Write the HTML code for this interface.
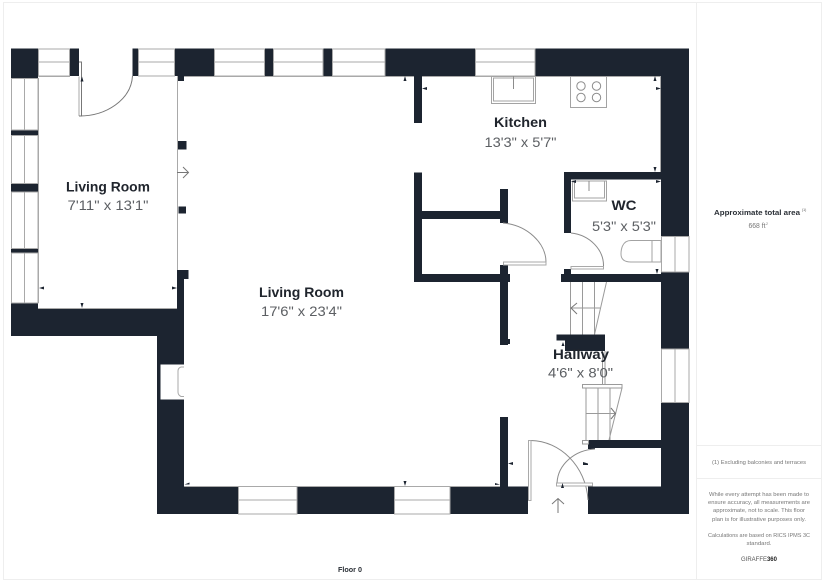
<!DOCTYPE html>
<html><head><meta charset="utf-8"><style>
html,body{margin:0;padding:0;background:#fff;width:825px;height:583px;overflow:hidden}
svg{display:block}
text{font-family:"Liberation Sans",sans-serif}
.n{font-size:14px;font-weight:bold;fill:#20252d;text-anchor:middle}
.d{font-size:14px;fill:#5c5f63;text-anchor:middle}
.s{font-size:5.4px;fill:#777;text-anchor:middle}
</style></head><body>
<svg width="825" height="583" viewBox="0 0 825 583" xmlns="http://www.w3.org/2000/svg">
<rect x="3.5" y="2.5" width="818" height="577" fill="#fff" stroke="#eeeeee"/>
<path d="M696.5 2.5V579.5M696.5 445.5H821.5M696.5 478.5H821.5" stroke="#eeeeee" fill="none"/>

<!-- walls -->
<g fill="#1c2430">
<rect x="11" y="48.5" width="678" height="27.5"/>
<rect x="11" y="48.5" width="27" height="30"/>
<rect x="11" y="303" width="27" height="33"/>
<rect x="11" y="308.5" width="173" height="27.5"/>
<rect x="157" y="308.5" width="27" height="205.5"/>
<rect x="177" y="270" width="7" height="40"/>
<rect x="177" y="270" width="11.5" height="9"/>
<rect x="177" y="76" width="7" height="5"/>
<rect x="177" y="141" width="9.5" height="8.5"/>
<rect x="178.5" y="206.5" width="7.5" height="7"/>
<rect x="11" y="130" width="27" height="5.5"/>
<rect x="11" y="183.5" width="27" height="8.5"/>
<rect x="11" y="248.5" width="27" height="4.5"/>
<rect x="157" y="486.5" width="371" height="27.5"/>
<rect x="588" y="486.5" width="101" height="27.5"/>
<rect x="661" y="48.5" width="28" height="465.5"/>
<rect x="588" y="440" width="73" height="8"/>
<rect x="588" y="441.5" width="7" height="7.5"/>
<rect x="500" y="417" width="8" height="70"/>
<rect x="414" y="76" width="8" height="47"/>
<rect x="414" y="172.5" width="8" height="109.5"/>
<rect x="422" y="211" width="80" height="8"/>
<rect x="500" y="189" width="8" height="34"/>
<rect x="414" y="274" width="96" height="8"/>
<rect x="500" y="265" width="8" height="80"/>
<rect x="508" y="339" width="2" height="5"/>
<rect x="564" y="172" width="97" height="7.5"/>
<rect x="564" y="172" width="7" height="61"/>
<rect x="561" y="274" width="100" height="8"/>
<rect x="564" y="269" width="7" height="6"/>
<rect x="556.5" y="334.5" width="48.5" height="6"/>
<rect x="565" y="340" width="40" height="11"/>
</g>

<!-- windows -->
<g fill="#fff" stroke="#a9a9a9" stroke-width="1">
<rect x="38.5" y="49" width="31" height="27"/>
<rect x="138.5" y="49" width="36" height="27"/>
<rect x="214.5" y="49" width="50" height="27"/>
<rect x="273.5" y="49" width="49.5" height="27"/>
<rect x="332.5" y="49" width="52.5" height="27"/>
<rect x="475.5" y="49" width="59.5" height="27"/>
<rect x="238.5" y="486.5" width="58.5" height="27.5"/>
<rect x="394.5" y="486.5" width="55.5" height="27.5"/>
<rect x="661.5" y="236.5" width="27.5" height="35.5"/>
<rect x="661.5" y="349" width="27.5" height="53.5"/>
</g>
<rect x="79" y="48.5" width="53.5" height="28" fill="#fff"/>
<path d="M79 76.5H132.5" stroke="#fff"/>
<g fill="#fff" stroke="#a9a9a9">
<rect x="11.5" y="78.5" width="26.5" height="51.5"/>
<rect x="11.5" y="135.5" width="26.5" height="48"/>
<rect x="11.5" y="192" width="26.5" height="56.5"/>
<rect x="11.5" y="253" width="26.5" height="50"/>
</g>
<g fill="#1c2430">
<rect x="70" y="48.5" width="9" height="27.5"/>
<rect x="132.5" y="48.5" width="5.5" height="27.5"/>
</g>
<path d="M38 62H70M138 62H175M214 62H264M273 62H323M332 62H385M475 62H535M238 500H297M394 500H450M24.5 78V130M24.5 135V184M24.5 192V249M24.5 253V303M675 236V272M675 349V402" stroke="#a9a9a9" stroke-width="1" fill="none"/>
<path d="M38.5 76.5H70M79 76.5V116M177.500 76V270M38.5 78V303M38 308.5H177M184 76.5H414M422 76.5H661M184.5 486.5H500M660.5 76V172" stroke="#a9a9a9" stroke-width="1" fill="none"/>

<!-- fireplace-like window -->
<rect x="160.5" y="364.5" width="23.5" height="35" fill="#fff"/>
<path d="M184 367H181Q178 368 178 371V392Q178 395 181 396.5H184" fill="none" stroke="#a9a9a9"/>

<!-- doors & arcs -->
<g fill="none" stroke="#777" stroke-width="1">
<path d="M79 62H81.5V116H79"/>
<path d="M79.5 116C106 116 131 100 132.5 76"/>
<path d="M503 223C527 225 546 243 546 262" stroke="#8a8a8a"/>
<path d="M571 233C590 235 604 250 603.5 266.5" stroke="#8a8a8a"/>
<path d="M531 440.5C560 441 586 466 588 500" stroke="#8a8a8a"/>
<path d="M557 483C558 464 575 450 595 449" stroke="#8a8a8a"/>
</g>
<g fill="#fff" stroke="#a9a9a9">
<rect x="503.5" y="262" width="42.5" height="3"/>
<rect x="571" y="266.5" width="32.5" height="2.5"/>
<rect x="528.5" y="440.5" width="2.5" height="60"/>
<rect x="556.5" y="483" width="36" height="3"/>
</g>

<!-- stairs -->
<g fill="none" stroke="#9a9a9a" stroke-width="1">
<path d="M570.5 282V334.5M582.5 282V334.5M594.5 282V334.5M606.5 282L594.5 334.5M571 308H600"/>
<path d="M586 388V440M598 388V440M610 388V440M622 388L609 440M586 413.5H615"/>
<path d="M577 303L571 308L577 314M611 408L615.5 413.5L611 419" stroke="#777"/>
<rect x="582.5" y="384.5" width="39.5" height="3.5"/>
<rect x="582.5" y="440.5" width="6" height="3.5"/>
<path d="M602.5 351V384M605 351V384"/>
</g>

<!-- sink, hob, wc -->
<g fill="#fff" stroke="#a3a3a3">
<rect x="491.5" y="76.5" width="44" height="27"/>
<rect x="493.5" y="78" width="40" height="23"/>
<rect x="570.5" y="76.5" width="36" height="31"/>
<rect x="572.5" y="181" width="34" height="20"/>
<rect x="574.5" y="181" width="30" height="17"/>
<path d="M661 240.5H631C622 240.5 621 250 621 254C621 260 625 262 631 262H661V240.5Z"/>
<path d="M652 240.5V262"/>
</g>
<path d="M513.5 76V89M589 181V191" stroke="#8c8c8c" fill="none"/>
<g fill="#fff" stroke="#8c8c8c">
<circle cx="581" cy="86" r="4.2"/><circle cx="596.5" cy="86" r="4.2"/>
<circle cx="581" cy="97.5" r="4.2"/><circle cx="596.5" cy="97.5" r="4.2"/>
</g>

<!-- arrows -->
<path d="M177 172.5H188.5M183 167L188.5 172.5L183 178" fill="none" stroke="#777"/>
<path d="M558 513V498.5M552 504L558 498.5L564 504" fill="none" stroke="#777"/>

<!-- dimension ticks -->
<g fill="#1c2430">
<path d="M82 76.5l-1.5 5h3zM39 288l5-1.500v3zM177 288l-5-1.500v3zM82 308l-1.500-5h3z"/>
<path d="M405 76l-1.500 5h3zM422 88.500l5-1.500v3zM655 76l-1.500 5h3zM661 88.500l-5-1.500v3zM655 172l-1.500-5h3zM571 181.500l5-1.500v3zM661 181.500l-5-1.500v3zM657 274l-1.500-5h3z"/>
<path d="M184.500 484.500h5v-2zM405 486l-1.500-5h3zM508 463.500l5-1.500v3zM500 484.500l-5-1.500v2zM588 463.500l-5-1.500v3h5zM562.500 483l-1.500 5h3zM563 342l-1.500 4h3z"/>
</g>

<!-- labels -->
<text class="n" x="108" y="191.500" textLength="84" lengthAdjust="spacingAndGlyphs">Living Room</text>
<text class="d" x="108" y="210" textLength="81" lengthAdjust="spacingAndGlyphs">7'11" x 13'1"</text>
<text class="n" x="301.500" y="297" textLength="85" lengthAdjust="spacingAndGlyphs">Living Room</text>
<text class="d" x="301.500" y="316" textLength="81" lengthAdjust="spacingAndGlyphs">17'6" x 23'4"</text>
<text class="n" x="520.500" y="127" textLength="53" lengthAdjust="spacingAndGlyphs">Kitchen</text>
<text class="d" x="520.500" y="147" textLength="72" lengthAdjust="spacingAndGlyphs">13'3" x 5'7"</text>
<text class="n" x="624" y="210" textLength="25" lengthAdjust="spacingAndGlyphs">WC</text>
<text class="d" x="624" y="231" textLength="64" lengthAdjust="spacingAndGlyphs">5'3" x 5'3"</text>
<text class="n" x="581" y="359" textLength="56" lengthAdjust="spacingAndGlyphs">Hallway</text>
<text class="d" x="580.500" y="377.500" textLength="65" lengthAdjust="spacingAndGlyphs">4'6" x 8'0"</text>
<text x="350" y="572" font-size="7.500" font-weight="bold" fill="#2a2f36" text-anchor="middle" textLength="24" lengthAdjust="spacingAndGlyphs">Floor 0</text>

<text x="757" y="215" font-size="7.500" font-weight="bold" fill="#2a2f36" text-anchor="middle" textLength="86" lengthAdjust="spacingAndGlyphs">Approximate total area</text>
<text x="802" y="211" font-size="3.500" fill="#555">(1)</text>
<text x="757" y="228" font-size="7" fill="#777" text-anchor="middle" textLength="17" lengthAdjust="spacingAndGlyphs">668 ft</text>
<text x="766" y="225" font-size="3.500" fill="#777">2</text>

<text class="s" x="759" y="464" textLength="94" lengthAdjust="spacingAndGlyphs">(1) Excluding balconies and terraces</text>
<text class="s" x="759" y="496" textLength="100" lengthAdjust="spacingAndGlyphs">While every attempt has been made to</text>
<text class="s" x="759" y="504" textLength="102" lengthAdjust="spacingAndGlyphs">ensure accuracy, all measurements are</text>
<text class="s" x="759" y="512" textLength="92" lengthAdjust="spacingAndGlyphs">approximate, not to scale. This floor</text>
<text class="s" x="759" y="521" textLength="94" lengthAdjust="spacingAndGlyphs">plan is for illustrative purposes only.</text>
<text class="s" x="759" y="537" textLength="102" lengthAdjust="spacingAndGlyphs">Calculations are based on RICS IPMS 3C</text>
<text class="s" x="759" y="545" textLength="25" lengthAdjust="spacingAndGlyphs">standard.</text>
<text x="759" y="561" font-size="6.500" fill="#555" text-anchor="middle" textLength="36" lengthAdjust="spacingAndGlyphs">GIRAFFE<tspan font-weight="bold" fill="#222">360</tspan></text>
</svg>
</body></html>
